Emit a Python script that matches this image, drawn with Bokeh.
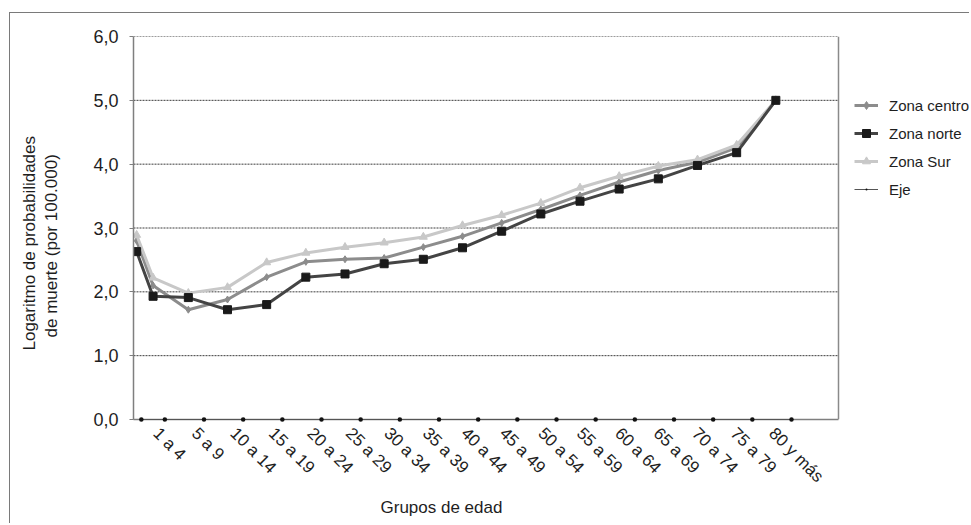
import math
from bokeh.plotting import figure
from bokeh.models import FixedTicker, Legend, LegendItem, Title, Range1d, Span
from bokeh.embed import file_html
from bokeh.resources import INLINE

# ---- data ----
age_mid = [0.4, 2.5, 7, 12, 17, 22, 27, 32, 37, 42, 47, 52, 57, 62, 67, 72, 77, 82]
group_labels = ["1 a 4", "5 a 9", "10 a 14", "15 a 19", "20 a 24", "25 a 29", "30 a 34",
                "35 a 39", "40 a 44", "45 a 49", "50 a 54", "55 a 59", "60 a 64", "65 a 69",
                "70 a 74", "75 a 79", "80 y más"]
# positions of the category labels along the x axis
label_pos = [2.9, 7.81, 12.73, 17.64, 22.55, 27.46, 32.38, 37.29, 42.2, 47.11, 52.03,
             56.94, 61.85, 66.76, 71.68, 76.59, 81.5]
zona_centro = [2.80, 2.10, 1.72, 1.88, 2.23, 2.47, 2.51, 2.53, 2.70, 2.87, 3.08, 3.29, 3.51, 3.72, 3.90, 4.03, 4.26, 5.00]
zona_norte = [2.63, 1.93, 1.91, 1.72, 1.80, 2.23, 2.28, 2.44, 2.51, 2.69, 2.95, 3.22, 3.42, 3.61, 3.77, 3.98, 4.18, 5.00]
zona_sur = [2.89, 2.22, 1.98, 2.07, 2.46, 2.61, 2.70, 2.77, 2.86, 3.04, 3.20, 3.39, 3.63, 3.81, 3.97, 4.07, 4.30, 5.00]
eje_x = [1, 4, 9, 14, 19, 24, 29, 34, 39, 44, 49, 54, 59, 64, 69, 74, 79, 84]
eje_y = [0] * len(eje_x)
y_ticks = [0, 1, 2, 3, 4, 5, 6]
y_tick_labels = ["0,0", "1,0", "2,0", "3,0", "4,0", "5,0", "6,0"]
x_axis_end = 90

FONT = "Liberation Sans"
TXT = "#1e1e1e"

W, H = 960, 511
ML, MT, MB = 123, 23, 105
PLOT_W = 705  # width of the drawn plot area in px
x_view_end = x_axis_end * (W - ML) / PLOT_W  # frame extends to canvas edge, so legend is inside it

p = figure(width=W, height=H, output_backend="svg", toolbar_location=None,
           x_range=Range1d(0, x_view_end), y_range=Range1d(0, 6),
           min_border_left=ML, min_border_right=0, min_border_top=MT, min_border_bottom=MB)
p.styles = {"margin-top": "12px", "margin-left": "9px",
            "border-top": "1px solid #7a7a7a", "border-left": "1px solid #7a7a7a"}
p.outline_line_color = None
p.background_fill_color = "white"
p.border_fill_color = "white"

# axes
yax = p.yaxis[0]
yax.ticker = FixedTicker(ticks=y_ticks)
yax.major_label_overrides = {t: s for t, s in zip(y_ticks, y_tick_labels)}
yax.axis_line_color = "#7f7f7f"
yax.axis_line_width = 1.5
yax.major_tick_line_color = "#7f7f7f"
yax.major_tick_out = 4
yax.major_tick_in = 0
yax.minor_tick_line_color = None
yax.major_label_standoff = 11
yax.major_label_text_font = FONT
yax.major_label_text_font_size = "18px"
yax.major_label_text_color = TXT

xax = p.xaxis[0]
xax.ticker = FixedTicker(ticks=label_pos)
xax.bounds = (0, x_axis_end)
xax.major_label_overrides = {t: s for t, s in zip(label_pos, group_labels)}
xax.major_label_orientation = -math.pi / 4
xax.axis_line_color = "#7f7f7f"
xax.axis_line_width = 1.5
xax.major_tick_line_color = None
xax.minor_tick_line_color = None
xax.major_tick_out = 0
xax.major_tick_in = 0
xax.major_label_standoff = 11
xax.major_label_text_font = FONT
xax.major_label_text_font_size = "17px"
xax.major_label_text_color = TXT

# gridlines only across the plot area
p.xgrid.grid_line_color = None
p.ygrid.grid_line_color = None
p.segment(x0=[0] * len(y_ticks), x1=[x_axis_end] * len(y_ticks), y0=y_ticks, y1=y_ticks,
          line_color="#3c3c3c", line_dash="2 1", line_width=1, level="underlay")

# right border of the plot area
p.add_layout(Span(location=x_axis_end, dimension="height", line_color="#8a8a8a", line_width=1.5))

# series
lc = p.line(age_mid, zona_centro, line_color="#8c8c8c", line_width=3)
sc = p.scatter(age_mid, zona_centro, marker="diamond", size=7, fill_color="#8c8c8c", line_color="#8c8c8c")
ls = p.line(age_mid, zona_sur, line_color="#c8c8c8", line_width=3)
ss = p.scatter(age_mid, zona_sur, marker="triangle", size=8, fill_color="#c8c8c8", line_color="#c8c8c8")
ln = p.line(age_mid, zona_norte, line_color="#444444", line_width=3)
sn = p.scatter(age_mid, zona_norte, marker="square", size=8, fill_color="#1a1a1a", line_color="#1a1a1a")
le = p.line(eje_x, eje_y, line_color="#555555", line_width=1, level="overlay")
se = p.scatter(eje_x, eje_y, marker="dot", size=18, fill_color="#111111", line_color="#111111", level="overlay")

legend = Legend(items=[
    LegendItem(label="Zona centro", renderers=[lc, sc]),
    LegendItem(label="Zona norte", renderers=[ln, sn]),
    LegendItem(label="Zona Sur", renderers=[ls, ss]),
    LegendItem(label="Eje", renderers=[le, se]),
], location=(721, 220))
legend.glyph_width = 24
legend.glyph_height = 20
legend.label_height = 20
legend.label_standoff = 11
legend.spacing = 8
legend.padding = 0
legend.margin = 0
legend.border_line_color = None
legend.background_fill_alpha = 0
legend.label_text_font = FONT
legend.label_text_font_size = "15px"
legend.label_text_color = TXT
p.add_layout(legend)

# axis titles
p.add_layout(Title(text="Grupos de edad", align="left", offset=247, standoff=0,
                   text_font=FONT, text_font_size="17px", text_font_style="normal",
                   text_color=TXT), "below")
# thin spacer between the tick labels and the two-line y title
p.add_layout(Title(text=" ", standoff=26, text_font_size="1px"), "left")
p.add_layout(Title(text="de muerte (por 100.000)", align="left", offset=82, standoff=2,
                   text_font=FONT, text_font_size="17px", text_font_style="normal",
                   text_color=TXT), "left")
p.add_layout(Title(text="Logaritmo de probabilidades", align="left", offset=69, standoff=0,
                   text_font=FONT, text_font_size="17px", text_font_style="normal",
                   text_color=TXT), "left")

open("out.html", "w").write(file_html(p, INLINE))
